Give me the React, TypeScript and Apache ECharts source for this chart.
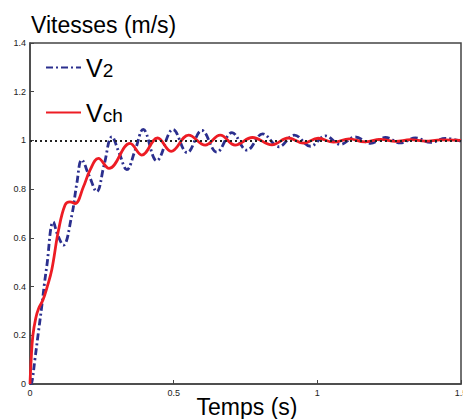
import React, { useEffect, useRef } from "react";
import * as echarts from "echarts";

// V2 (dash-dot blue)
const timeV2 = [0, 0.006, 0.017, 0.029, 0.041, 0.05, 0.058, 0.081, 0.097, 0.116, 0.145, 0.163, 0.18, 0.206, 0.232, 0.258, 0.285, 0.31, 0.337, 0.366, 0.394, 0.441, 0.498, 0.547, 0.598, 0.65, 0.703, 0.755, 0.81, 0.866, 0.92, 0.976, 1.028, 1.08, 1.132, 1.185, 1.237, 1.289, 1.341, 1.394, 1.446, 1.5];
const valuesV2 = [0, 0.005, 0.1, 0.21, 0.32, 0.41, 0.48, 0.665, 0.61, 0.57, 0.69, 0.824, 0.92, 0.855, 0.79, 0.9, 1.015, 0.95, 0.88, 0.96, 1.045, 0.917, 1.045, 0.95, 1.041, 0.952, 1.032, 0.96, 1.027, 0.974, 1.022, 0.976, 1.019, 0.984, 1.014, 0.988, 1.012, 0.99, 1.01, 0.992, 1.008, 0.997];

// Vch (solid red)
const timeVch = [0, 0.004, 0.01, 0.02, 0.03, 0.045, 0.06, 0.076, 0.099, 0.122, 0.139, 0.157, 0.186, 0.209, 0.238, 0.275, 0.348, 0.389, 0.444, 0.491, 0.552, 0.61, 0.662, 0.714, 0.774, 0.842, 0.899, 0.951, 1.003, 1.056, 1.111, 1.164, 1.22, 1.272, 1.324, 1.376, 1.429, 1.5];
const valuesVch = [0, 0.1, 0.2, 0.27, 0.31, 0.345, 0.4, 0.47, 0.63, 0.735, 0.748, 0.741, 0.81, 0.878, 0.926, 0.885, 0.988, 0.94, 1.01, 0.955, 1.022, 0.981, 1.022, 0.981, 1.012, 0.982, 1.01, 0.989, 1.009, 0.993, 1.006, 0.994, 1.004, 0.996, 1.003, 0.997, 1.002, 1.0];

const seriesNames = ["V2", "Vch"];
const referenceLevel = 1;

const xTicks = [0, 0.5, 1, 1.5];
const yTicks = [0, 0.2, 0.4, 0.6, 0.8, 1, 1.2, 1.4];

const FONT = "'Liberation Sans', Arial, Helvetica, sans-serif";

export default function App() {
  const ref = useRef<HTMLDivElement>(null);
  useEffect(() => {
    if (!ref.current) return;
    const chart = echarts.init(ref.current, null, { renderer: "svg" });
    const v2 = timeV2.map((t, i) => [t, valuesV2[i]]);
    const vch = timeVch.map((t, i) => [t, valuesVch[i]]);
    chart.setOption({
      animation: false,
      backgroundColor: "#fff",
      textStyle: { fontFamily: FONT },
      title: {
        text: "Vitesses (m/s)",
        left: 26,
        top: 8,
        textStyle: { fontSize: 23, fontWeight: "normal", color: "#000", fontFamily: FONT },
      },
      graphic: [
        {
          type: "text",
          x: 247,
          y: 407,
          style: {
            text: "Temps (s)",
            fontSize: 23,
            fontFamily: FONT,
            fill: "#000",
            align: "center",
            verticalAlign: "middle",
          },
        },
      ],
      legend: {
        orient: "vertical",
        left: 40,
        top: 50,
        itemWidth: 35,
        itemHeight: 14,
        itemGap: 20,
        data: seriesNames,
        itemStyle: { opacity: 0 },
        formatter: (name: string) => (name === "V2" ? "{a|V}{b|2}" : "{a|V}{b|ch}"),
        textStyle: {
          color: "#000",
          rich: {
            a: { fontSize: 25, fontFamily: FONT, color: "#000", verticalAlign: "bottom" },
            b: { fontSize: 19, fontFamily: FONT, color: "#000", verticalAlign: "bottom" },
          },
        },
      },
      grid: {
        left: 30,
        right: 2,
        top: 43,
        bottom: 35,
        outerBoundsMode: "none",
        containLabel: false,
        show: true,
        borderColor: "#444",
        borderWidth: 1.5,
        backgroundColor: "transparent",
      },
      xAxis: {
        type: "value",
        min: xTicks[0],
        max: xTicks[xTicks.length - 1],
        interval: 0.5,
        axisLine: { show: true, lineStyle: { color: "#444", width: 1.5 } },
        axisTick: { show: true, inside: true, length: 4, lineStyle: { color: "#444" } },
        axisLabel: {
          fontSize: 9,
          color: "#222",
          margin: 4,
          showMaxLabel: true,
          formatter: (v: number) => String(+v.toFixed(1)),
        },
        splitLine: { show: false },
      },
      yAxis: {
        type: "value",
        min: yTicks[0],
        max: yTicks[yTicks.length - 1],
        interval: 0.2,
        axisLine: { show: true, lineStyle: { color: "#444", width: 1.5 } },
        axisTick: { show: true, inside: true, length: 4, lineStyle: { color: "#444" } },
        axisLabel: {
          fontSize: 9,
          color: "#222",
          margin: 4,
          formatter: (v: number) => String(+v.toFixed(1)),
        },
        splitLine: { show: false },
      },
      series: [
        {
          name: seriesNames[0],
          type: "line",
          data: v2,
          showSymbol: false,
          symbol: "none",
          smooth: 0.4,
          z: 3,
          lineStyle: { color: "#2b2f8e", width: 2.8, type: [7, 3, 2, 3] },
          itemStyle: { color: "#2b2f8e" },
          markLine: {
            silent: true,
            symbol: ["none", "none"],
            label: { show: false },
            lineStyle: { color: "#222", width: 2, type: [2, 3] },
            data: [{ yAxis: referenceLevel }],
          },
        },
        {
          name: seriesNames[1],
          type: "line",
          data: vch,
          showSymbol: false,
          symbol: "none",
          smooth: 0.4,
          z: 4,
          lineStyle: { color: "#ed1c24", width: 2.8 },
          itemStyle: { color: "#ed1c24" },
        },
      ],
    });
    return () => chart.dispose();
  }, []);
  return (
    <div
      ref={ref}
      style={{ position: "fixed", left: 0, top: 0, width: 463, height: 419 }}
    />
  );
}
